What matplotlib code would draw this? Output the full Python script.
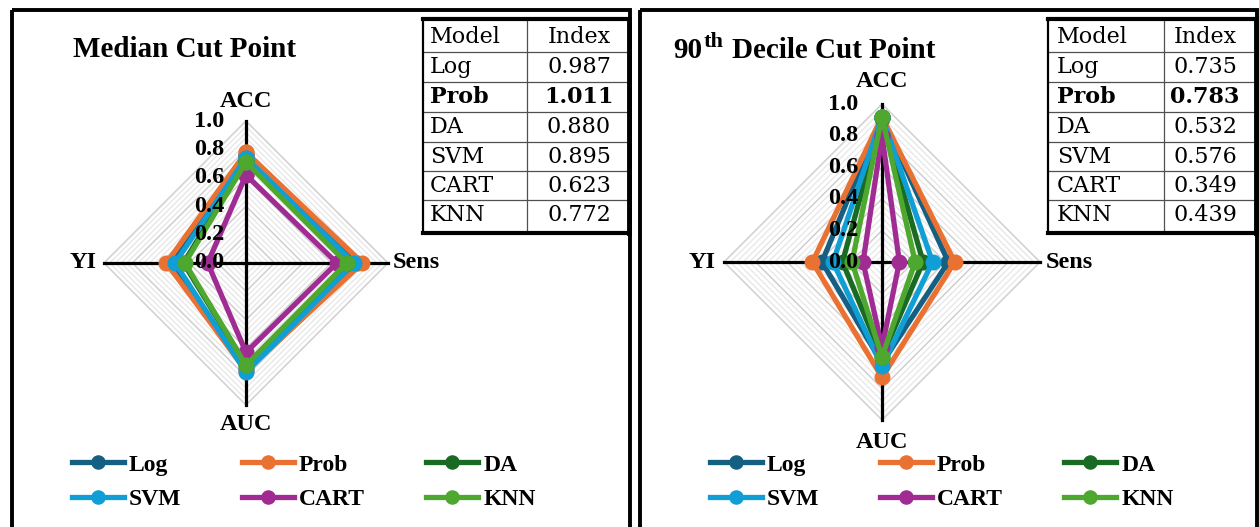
import numpy as np
import matplotlib.pyplot as plt
from matplotlib.patches import Rectangle

plt.rcParams['font.family'] = ['Liberation Serif', 'DejaVu Serif']

# ---- data -------------------------------------------------------------
axis_names = ['ACC', 'Sens', 'AUC', 'YI']
models = ['Log', 'Prob', 'DA', 'SVM', 'CART', 'KNN']
colors = ['#156082', '#E97132', '#196B24', '#0F9ED5', '#A02B93', '#4EA72E']

# median cut point: ACC, Sens, AUC, YI
median_log = [0.76, 0.78, 0.75, 0.52]
median_prob = [0.78, 0.82, 0.76, 0.56]
median_da = [0.72, 0.72, 0.72, 0.44]
median_svm = [0.74, 0.76, 0.77, 0.50]
median_cart = [0.62, 0.64, 0.63, 0.27]
median_knn = [0.71, 0.71, 0.72, 0.43]
median_index = [0.987, 1.011, 0.880, 0.895, 0.623, 0.772]

# 90th decile cut point: ACC, Sens, AUC, YI
decile_log = [0.92, 0.42, 0.64, 0.38]
decile_prob = [0.92, 0.46, 0.73, 0.44]
decile_da = [0.91, 0.26, 0.60, 0.25]
decile_svm = [0.92, 0.32, 0.66, 0.31]
decile_cart = [0.80, 0.11, 0.54, 0.12]
decile_knn = [0.92, 0.21, 0.60, 0.19]
decile_index = [0.735, 0.783, 0.532, 0.576, 0.349, 0.439]

radar_ticks = [0.0, 0.2, 0.4, 0.6, 0.8, 1.0]

W, H = 1259, 527
LIM = 1.3
BOLD = dict(fontweight='bold', fontsize=17.5)


def add_radar(cx, cy, radius):
    size = 2 * LIM * radius
    ax = fig.add_axes([(cx - size / 2) / W, (H - cy - size / 2) / H, size / W, size / H])
    ax.set_xlim(-LIM, LIM)
    ax.set_ylim(-LIM, LIM)
    ax.set_aspect('equal')
    ax.axis('off')
    ax.patch.set_alpha(0)
    return ax


def draw_radar(ax, series):
    theta = np.deg2rad([90, 0, -90, 180])
    ct, st = np.cos(theta), np.sin(theta)
    ct_c, st_c = np.append(ct, ct[0]), np.append(st, st[0])

    # light diamond gridlines, a bit darker every 0.2
    for i, lvl in enumerate(np.linspace(0.04, 1.0, 25), start=1):
        major = i % 5 == 0
        ax.plot(lvl * ct_c, lvl * st_c, color='#cfcfcf' if major else '#e6e6e6',
                lw=1.1 if major else 0.9, zorder=1)

    for c, s in zip(ct, st):
        ax.plot([0, c], [0, s], color='black', lw=2.3, zorder=2)

    for vals, col in zip(series, colors):
        r = np.append(vals, vals[0])
        ax.plot(r * ct_c, r * st_c, color=col, lw=3.8, marker='o', ms=10.5,
                solid_joinstyle='round', zorder=3)

    for v in radar_ticks:
        ax.text(-0.15, v, f'{v:.1f}', ha='right', va='center', zorder=10, **BOLD)

    ax.text(0, 1.14, axis_names[0], ha='center', va='center', **BOLD)
    ax.text(1.035, 0, axis_names[1], ha='left', va='center', **BOLD)
    ax.text(0, -1.14, axis_names[2], ha='center', va='center', **BOLD)
    ax.text(-1.05, 0, axis_names[3], ha='right', va='center', **BOLD)


def draw_table(ov, x0, x1, xdiv, xtext, xval, values):
    top, bottom = 19, 233
    row_lines = [52, 82, 112, 142, 171, 200]
    centers = [37, 67, 97, 127, 157, 186, 215]
    for y in row_lines:
        ov.plot([x0, x1], [y, y], color='#505050', lw=0.9)
    ov.plot([xdiv, xdiv], [top, bottom], color='#505050', lw=0.9)
    ov.plot([x0, x0], [top, bottom], color='black', lw=1.6)
    ov.plot([x0, x1], [top, top], color='black', lw=3.0)
    ov.plot([x0, x1], [bottom, bottom], color='black', lw=3.0)
    ov.plot([x1, x1], [top, bottom], color='black', lw=3.5)

    best = int(np.argmax(values))
    kw = dict(fontsize=16, family='DejaVu Serif', va='center')
    ov.text(xtext, centers[0], 'Model', ha='left', **kw)
    ov.text(xval, centers[0], 'Index', ha='center', **kw)
    for i, (m, v) in enumerate(zip(models, values)):
        w = 'bold' if i == best else 'normal'
        ov.text(xtext, centers[i + 1], m, ha='left', fontweight=w, **kw)
        ov.text(xval, centers[i + 1], f'{v:.3f}', ha='center', fontweight=w, **kw)


def draw_legend(ax, x, y):
    handles = ax.get_lines()[-6:]
    order = [0, 3, 1, 4, 2, 5]
    fig.legend([handles[i] for i in order], [models[i] for i in order],
               loc='upper left', bbox_to_anchor=(x / W, 1 - y / H), ncol=3,
               frameon=False, prop=dict(weight='bold', size=17), borderpad=0,
               borderaxespad=0, handlelength=2.2, handletextpad=0.2,
               columnspacing=2.6, labelspacing=0.55, markerscale=0.9)


fig = plt.figure(figsize=(W / 100, H / 100), dpi=100)

# overlay in pixel units for panel frames, tables and titles
ov = fig.add_axes([0, 0, 1, 1])
ov.set_xlim(0, W)
ov.set_ylim(H, 0)
ov.axis('off')

ov.add_patch(Rectangle((12, 10), 618, 600, fill=False, ec='black', lw=2.8))
ov.add_patch(Rectangle((640, 10), 617, 600, fill=False, ec='black', lw=2.8))

ov.text(73, 57, 'Median Cut Point', fontsize=21, fontweight='bold', va='baseline')
ov.text(673, 58, '90', fontsize=21, fontweight='bold', va='baseline')
ov.text(704, 47, 'th', fontsize=16, fontweight='bold', va='baseline')
ov.text(732, 58, 'Decile Cut Point', fontsize=21, fontweight='bold', va='baseline')

draw_table(ov, 423, 629, 527, 430, 579, median_index)
draw_table(ov, 1048, 1256, 1164, 1057, 1205, decile_index)

ax1 = add_radar(246, 263, 142)
draw_radar(ax1, [median_log, median_prob, median_da, median_svm, median_cart, median_knn])
draw_legend(ax1, 72, 454)

ax2 = add_radar(882, 262, 158)
draw_radar(ax2, [decile_log, decile_prob, decile_da, decile_svm, decile_cart, decile_knn])
draw_legend(ax2, 710, 454)

fig.savefig('out.png', dpi=100)
